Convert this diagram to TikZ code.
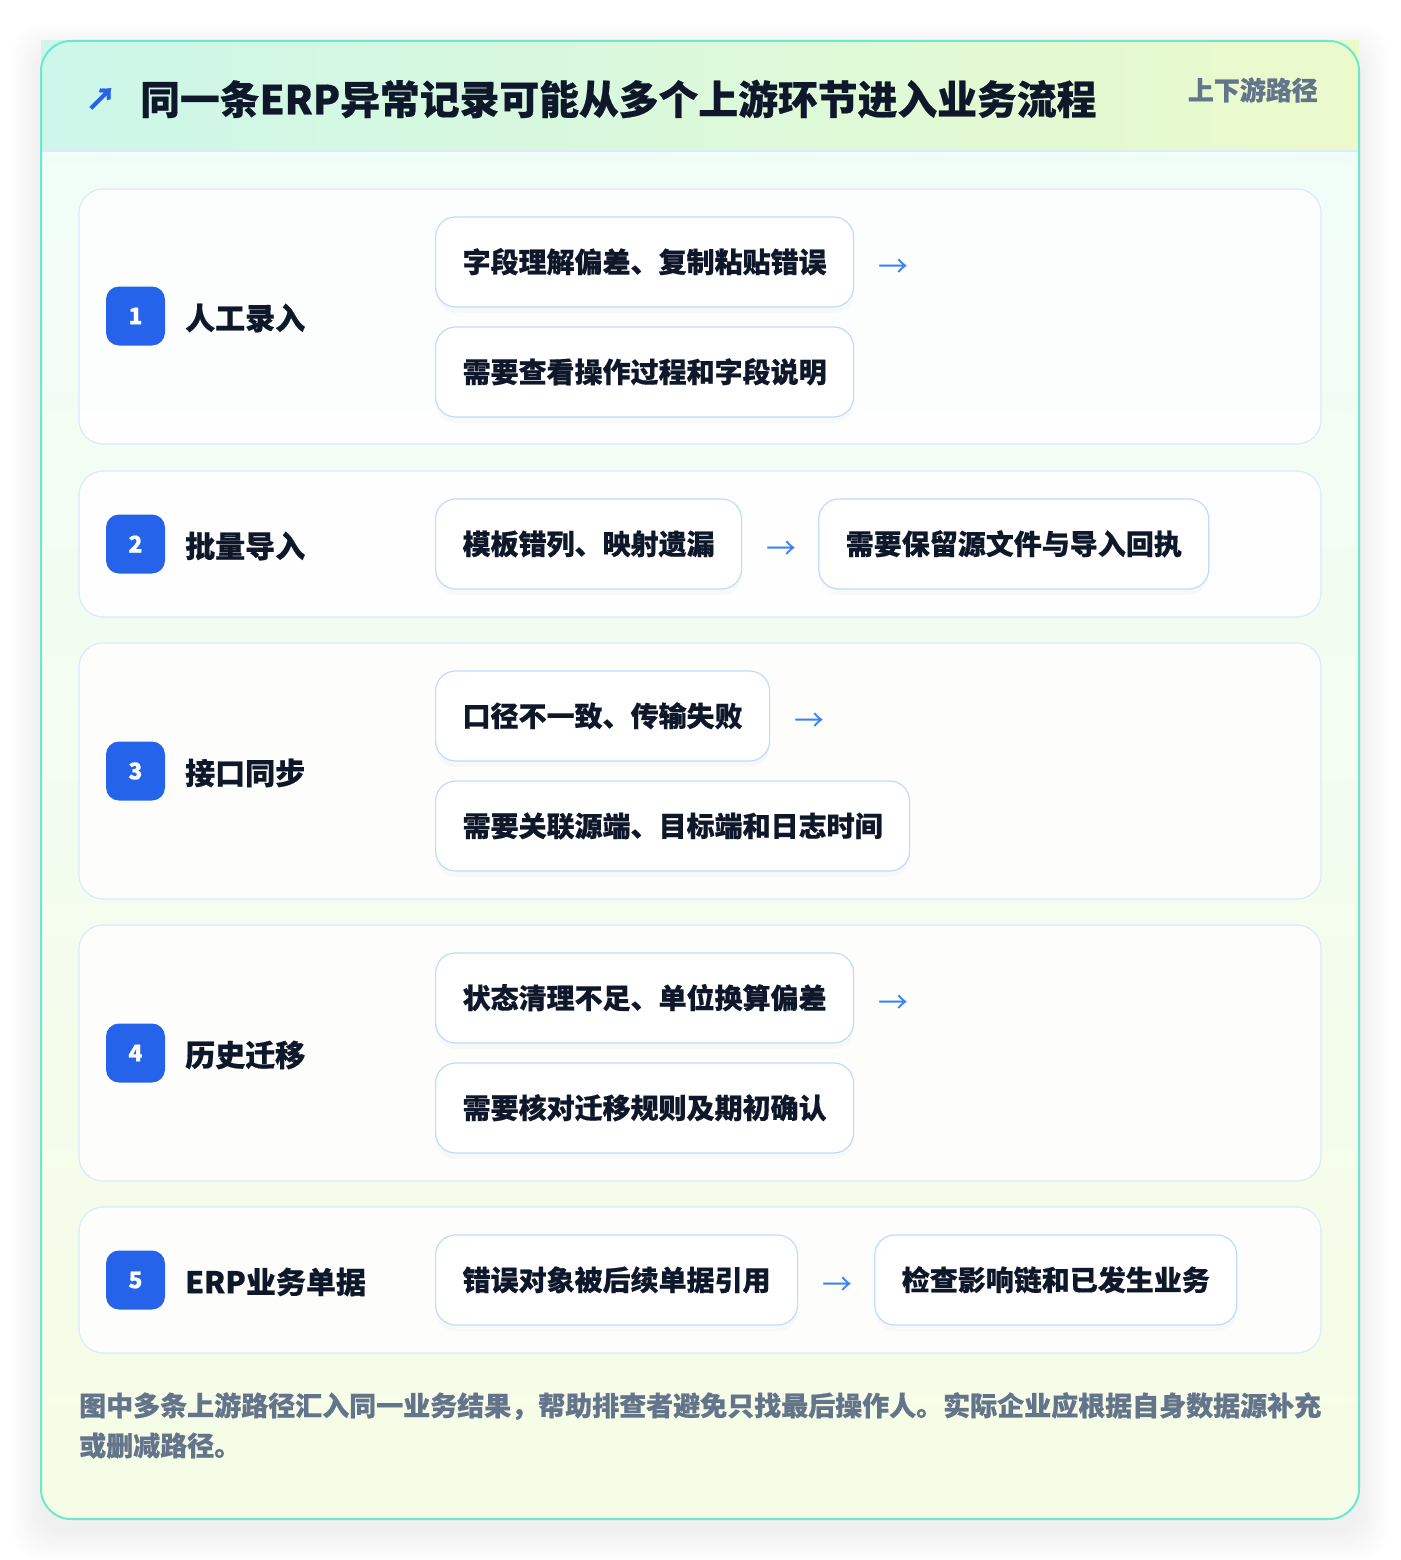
\documentclass[tikz,border=0pt]{standalone}
\usepackage{fontspec}
\setmainfont{Noto Sans CJK SC}[BoldFeatures={FakeBold=0.5}]
\usetikzlibrary{positioning,shadows}

\definecolor{cardline}{HTML}{6EE7CF}
\definecolor{headleft}{HTML}{CCF7EA}
\definecolor{headright}{HTML}{EBFACB}
\definecolor{bodytop}{HTML}{F0FDF9}
\definecolor{bodybot}{HTML}{F6FDE6}
\definecolor{rowline}{HTML}{DBEAFE}
\definecolor{boxline}{HTML}{BFDBFE}
\definecolor{badgeblue}{HTML}{2563EB}
\definecolor{arrowblue}{HTML}{3B82F6}
\definecolor{ink}{HTML}{0F172A}
\definecolor{muted}{HTML}{64748B}

\begin{document}
\begin{tikzpicture}[x=1pt,y=-1pt,
	rowcard/.style={draw=rowline,fill=white,fill opacity=.85,line width=1.2pt,rounded corners=24pt},
	badge/.style={fill=badgeblue,rounded corners=13pt,minimum size=59pt,inner sep=0pt,text=white,font=\fontsize{23}{23}\selectfont\bfseries},
	stagelabel/.style={anchor=west,inner sep=0pt,text=ink,font=\fontsize{30}{30}\selectfont\bfseries},
	causebox/.style={draw=boxline,fill=white,line width=1.2pt,rounded corners=20pt,minimum height=90pt,inner xsep=27pt,inner ysep=0pt,text height=24pt,text depth=3pt,anchor=west,text=ink,font=\fontsize{28}{28}\selectfont\bfseries,
		drop shadow={opacity=.035,shadow xshift=0pt,shadow yshift=-6pt}},
	flow/.style={inner sep=0pt,text=arrowblue,font=\fontsize{30}{30}\selectfont}
	]
	\useasboundingbox (0,0) rectangle (1400,1560);
	\fill[white] (0,0) rectangle (1400,1560);
	% soft shadow under the card
	\foreach \s in {2,4,...,30}
	{
		\fill[black,opacity=.005,rounded corners=30pt] (41-\s,53-\s) rectangle (1359+\s,1531+\s);
	}
	% card and header band
	\shade[top color=bodytop,bottom color=bodybot,rounded corners=30pt] (41,41) rectangle (1359,1519);
	\shade[left color=headleft,right color=headright] (41,41) rectangle (1359,151);
	\draw[rowline,line width=1.2pt] (41,151) -- (1359,151);
	\draw[cardline,line width=2pt,rounded corners=30pt] (41,41) rectangle (1359,1519);

	\node[flow,text=badgeblue,font=\fontsize{31}{31}\selectfont\bfseries] (icon) at (101,99) {↗};
	\node[anchor=west,inner sep=0pt,text=ink,font=\fontsize{39.8}{40}\selectfont\bfseries] (title) at (140,99) {同一条ERP异常记录可能从多个上游环节进入业务流程};
	\node[anchor=east,inner sep=0pt,text=muted,font=\fontsize{26}{26}\selectfont\bfseries] (tag) at (1318,90) {上下游路径};

	% stage rows
	\foreach \n/\y/\top/\bot/\lab in {1/316/189/444/人工录入, 2/544/471/617/批量导入, 3/771/643/899/接口同步, 4/1053/925/1181/历史迁移, 5/1280/1207/1353/ERP业务单据}
	{
		\draw[rowcard] (79,\top) rectangle (1321,\bot);
		\node[badge] (b\n) at (135.5,\y) {\n};
		\node[stagelabel] (l\n) at (185,\y+2) {\lab};
	}

	% row 1
	\node[causebox] (c1) at (435,262) {字段理解偏差、复制粘贴错误};
	\node[causebox] (d1) at (435,372) {需要查看操作过程和字段说明};
	\node[flow] (a1) at ([xshift=39pt,yshift=-6pt]c1.east) {→};
	% row 2
	\node[causebox] (c2) at (435,544) {模板错列、映射遗漏};
	\node[flow] (a2) at ([xshift=39pt,yshift=-6pt]c2.east) {→};
	\node[causebox] (d2) at ([xshift=76pt]c2.east) {需要保留源文件与导入回执};
	% row 3
	\node[causebox] (c3) at (435,716) {口径不一致、传输失败};
	\node[causebox] (d3) at (435,826) {需要关联源端、目标端和日志时间};
	\node[flow] (a3) at ([xshift=39pt,yshift=-6pt]c3.east) {→};
	% row 4
	\node[causebox] (c4) at (435,998) {状态清理不足、单位换算偏差};
	\node[causebox] (d4) at (435,1108) {需要核对迁移规则及期初确认};
	\node[flow] (a4) at ([xshift=39pt,yshift=-6pt]c4.east) {→};
	% row 5
	\node[causebox] (c5) at (435,1280) {错误对象被后续单据引用};
	\node[flow] (a5) at ([xshift=39pt,yshift=-6pt]c5.east) {→};
	\node[causebox] (d5) at ([xshift=76pt]c5.east) {检查影响链和已发生业务};

	\node[anchor=north west,align=left,inner sep=0pt,text=muted,font=\fontsize{27}{40}\selectfont\bfseries] (note) at (79,1392) {图中多条上游路径汇入同一业务结果，帮助排查者避免只找最后操作人。实际企业应根据自身数据源补充\\或删减路径。};
\end{tikzpicture}
\end{document}
